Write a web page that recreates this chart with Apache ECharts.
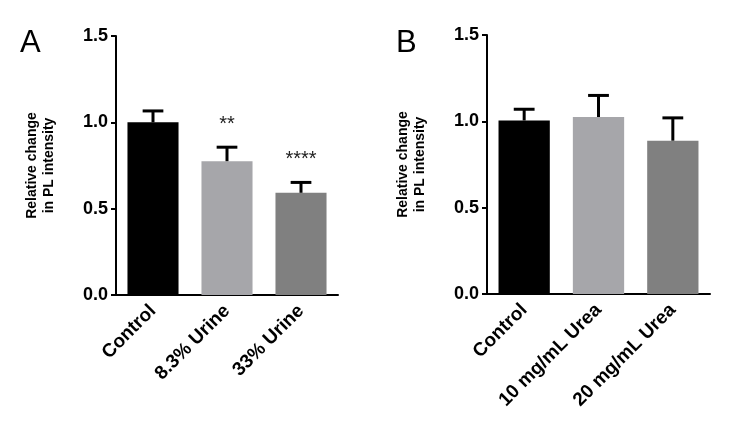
<!DOCTYPE html>
<html><head><meta charset="utf-8">
<script src="https://cdn.jsdelivr.net/npm/echarts@6/dist/echarts.min.js"></script>
<style>html,body{margin:0;padding:0;background:#fff}#c{width:729px;height:436px}</style>
</head><body><div id="c"></div>
<script>
const catsA = ['Control', '8.3% Urine', '33% Urine'];
const valsA = [1.0, 0.775, 0.592];
const errA = [0.066, 0.081, 0.060];
const sigA = ['', '**', '****'];
const catsB = ['Control', '10 mg/mL Urea', '20 mg/mL Urea'];
const valsB = [1.005, 1.025, 0.888];
const errB = [0.065, 0.125, 0.132];
const sigB = ['', '', ''];
const yTicks = [0, 0.5, 1.0, 1.5];
const barColors = ['#000000', '#a6a6aa', '#808080'];
const yTitle = 'Relative change\nin PL intensity';
const panelLetters = ['A', 'B'];

const FONT = "'Liberation Sans', Arial, sans-serif";
const chart = echarts.init(document.getElementById('c'), null, {renderer: 'canvas'});

const grids = [
  {left: 116, top: 36, width: 222, height: 259},
  {left: 487, top: 35, width: 223, height: 259}
];

function xAxis(i, cats) {
  return {
    type: 'category', gridIndex: i, data: cats,
    axisLine: {lineStyle: {color: '#000', width: 2}},
    axisTick: {alignWithLabel: true, length: 6, lineStyle: {color: '#000', width: 2}},
    axisLabel: {rotate: 45, margin: 13, color: '#000', fontWeight: 'bold', fontSize: 19, fontFamily: FONT, interval: 0}
  };
}
function yAxis(i) {
  return {
    type: 'value', gridIndex: i, min: yTicks[0], max: yTicks[yTicks.length - 1], interval: yTicks[1] - yTicks[0],
    splitLine: {show: false},
    axisLine: {show: true, lineStyle: {color: '#000', width: 2}},
    axisTick: {show: true, length: 5, lineStyle: {color: '#000', width: 2}},
    axisLabel: {margin: 8, color: '#000', fontWeight: 'bold', fontSize: 18, fontFamily: FONT,
      formatter: v => v.toFixed(1)},
    name: yTitle, nameLocation: 'middle', nameRotate: 90, nameGap: 58,
    nameTextStyle: {color: '#000', fontWeight: 'bold', fontSize: 14, fontFamily: FONT, lineHeight: 17}
  };
}
function barSeries(i, vals) {
  return {
    type: 'bar', xAxisIndex: i, yAxisIndex: i, barWidth: '69%',
    data: vals.map((v, k) => ({value: v, itemStyle: {color: barColors[k]}})),
    silent: true
  };
}
function errSeries(i, vals, errs, sigs) {
  return {
    type: 'custom', xAxisIndex: i, yAxisIndex: i, silent: true, z: 5,
    data: vals.map((v, k) => [k, v, errs[k], sigs[k]]),
    renderItem: function (params, api) {
      const k = api.value(0), v = api.value(1), e = api.value(2);
      const base = api.coord([k, v]);
      const top = api.coord([k, v + e]);
      const half = api.size([1, 0])[0] * 0.14;
      const s = sigs[k];
      const children = [
        {type: 'line', shape: {x1: base[0], y1: base[1], x2: top[0], y2: top[1]}, style: {stroke: '#000', lineWidth: 3}},
        {type: 'line', shape: {x1: top[0] - half, y1: top[1], x2: top[0] + half, y2: top[1]}, style: {stroke: '#000', lineWidth: 3}}
      ];
      if (s) {
        children.push({type: 'text', style: {text: s, x: top[0], y: top[1] - 23, textAlign: 'center', textVerticalAlign: 'middle',
          fill: '#222', fontSize: 20, fontFamily: FONT}});
      }
      return {type: 'group', children: children};
    }
  };
}

chart.setOption({
  animation: false,
  backgroundColor: '#fff',
  grid: grids,
  xAxis: [xAxis(0, catsA), xAxis(1, catsB)],
  yAxis: [yAxis(0), yAxis(1)],
  series: [barSeries(0, valsA), errSeries(0, valsA, errA, sigA), barSeries(1, valsB), errSeries(1, valsB, errB, sigB)],
  graphic: [
    {type: 'text', left: 20, top: 28, style: {text: panelLetters[0], fontSize: 31, fontFamily: FONT, fill: '#000'}},
    {type: 'text', left: 396, top: 28, style: {text: panelLetters[1], fontSize: 31, fontFamily: FONT, fill: '#000'}}
  ]
});
</script></body></html>
